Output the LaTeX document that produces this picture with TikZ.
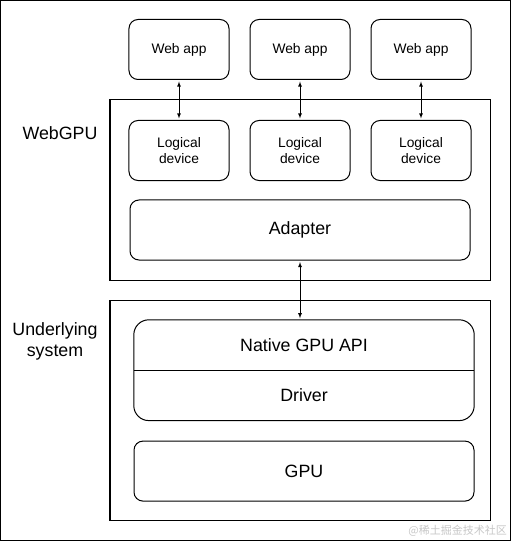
\documentclass[tikz,border=0pt]{standalone}
\usepackage{fontspec}
\setmainfont{Liberation Sans}
\newfontfamily\cjkfont{Noto Sans CJK SC}
\usetikzlibrary{matrix,positioning,arrows}

\begin{document}
\begin{tikzpicture}[
     x=1bp, y=-1bp,
     % define styles
     box/.style={
         draw,
         rounded corners=9bp,
         line width=1bp,
         minimum width=100bp,
         minimum height=60bp,
         inner sep=0pt,
         align=center,
         font=\fontsize{13.8bp}{15.7bp}\selectfont
     },
     big/.style={
         font=\fontsize{17.8bp}{21.7bp}\selectfont
     },
     frame/.style={
         draw,
         line width=1bp,
         inner sep=0pt
     },
     layer/.style={
         big,
         minimum width=340bp,
         minimum height=50bp,
         inner sep=0pt
     },
     heading/.style={
         big,
         align=center,
         inner sep=0pt
     },
     net/.style={
         matrix of nodes,
         nodes={ box, anchor=center },
         inner sep=0pt,
         column sep=20bp,
         row sep=40bp
     },
     link/.style={
         <->,
         line width=0.8bp,
         shorten >=1.5bp,
         shorten <=1.5bp
     },
     >=latex
]
\useasboundingbox (0,0) rectangle (511,541);
\draw[line width=1bp] (0.5,0.5) rectangle (510.5,540.5);

% the two layers
\node[frame, minimum width=380bp, minimum height=180bp] (webgpu) at (300,190) {};
\node[frame, minimum width=380bp, minimum height=220bp] (system) at (300,410) {};
\node[heading] (webgpulbl) at (60,133) {WebGPU};
\node[heading, anchor=north] (systemlbl) at (55,322) {Underlying\\system};

% web apps and their logical devices
\matrix[net] (mat) at (300,100)
{
Web app& Web app& Web app\\
\parbox{60bp}{\centering Logical\\device}&\parbox{60bp}{\centering Logical\\device}&\parbox{60bp}{\centering Logical\\device}\\
};
\draw[link] (mat-1-1) -- (mat-2-1);
\draw[link] (mat-1-2) -- (mat-2-2);
\draw[link] (mat-1-3) -- (mat-2-3);

\node[box, big, minimum width=340bp] (adapter) at (300,230) {Adapter};

% native stack
\node[layer] (native) at (304,345) {Native GPU API};
\node[layer, below=0pt of native] (driver) {Driver};
\draw[line width=1bp, rounded corners=15bp] (native.north west) rectangle (driver.south east);
\draw[line width=1bp] (native.south west) -- (native.south east);
\node[box, big, minimum width=340bp, below=20bp of driver] (gpu) {GPU};

\draw[link] (adapter.south) -- (adapter.south |- native.north);

\node[anchor=east, text=black!22, inner sep=0pt, font=\cjkfont\fontsize{11bp}{13bp}\selectfont] (mark) at (507,531) {@稀土掘金技术社区};
\end{tikzpicture}
\end{document}
